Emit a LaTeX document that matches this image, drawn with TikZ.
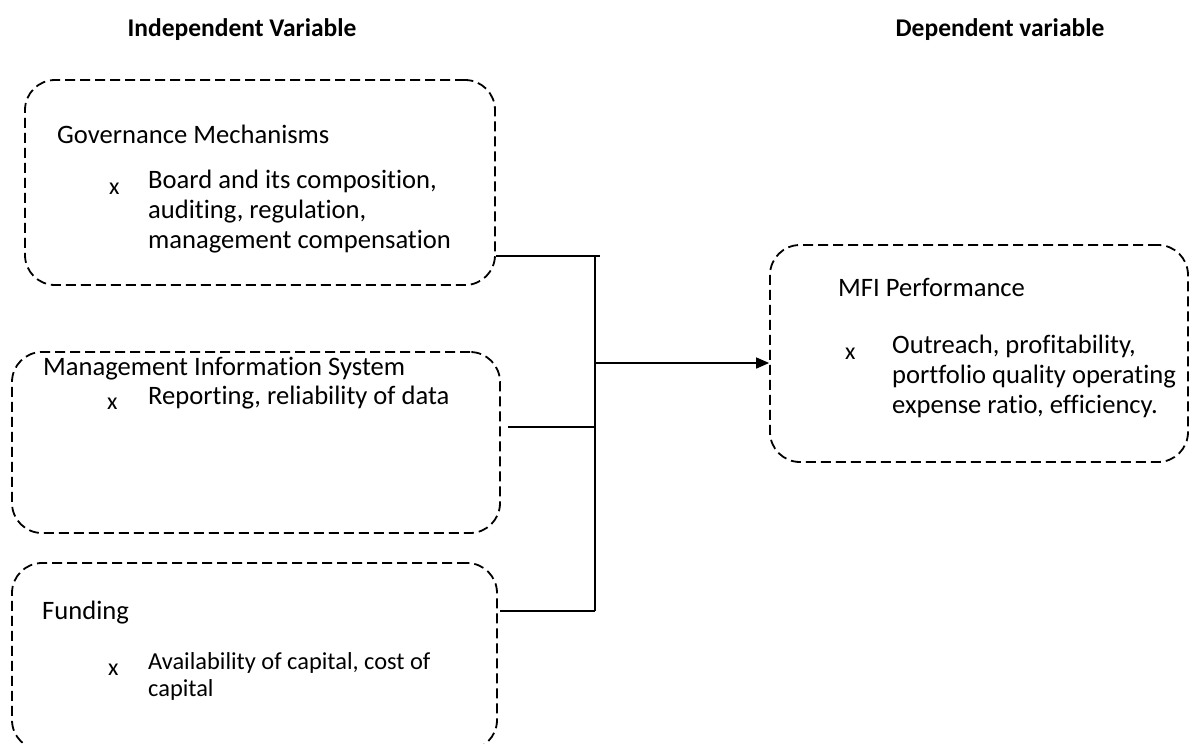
\documentclass[tikz,border=0pt]{standalone}
\usepackage{fontspec}
\setmainfont{Carlito}[Ligatures=NoCommon]
\usetikzlibrary{arrows.meta,calc}

\begin{document}
\begin{tikzpicture}[x=1pt,y=-1pt]
    \tikzstyle{edge}  = [line width=1.6pt,draw=black]
    \tikzstyle{dedge} = [edge,-{Triangle[length=13pt,width=11pt]}]
    \tikzstyle{vbox}=[
      draw=black,
      rectangle,
      rounded corners=30pt,
      line width=1.8pt,
      dash pattern=on 10pt off 5pt,
      inner sep=0pt,
    ]
    \tikzstyle{vhead}=[
      font=\fontsize{25.5}{30}\selectfont\bfseries,
      anchor=base,
      inner sep=0pt,
    ]
    \tikzstyle{vtitle}=[
      font=\fontsize{26.6}{30}\selectfont,
      anchor=base west,
      inner sep=0pt,
    ]
    \tikzstyle{vbullet}=[
      vtitle,
      font=\fontsize{24}{30}\selectfont,
    ]
    \tikzstyle{vitem}=[
      vtitle,
      align=flush left,
      text width=400pt,
    ]
    \tikzstyle{vsmall}=[
      vitem,
      font=\fontsize{24.4}{27}\selectfont,
    ]

    \useasboundingbox (0,0) rectangle (1191,744);

    {
      \node[vhead] (hind) at (242,36) {Independent Variable};
      \node[vhead] (hdep) at (1000,36) {Dependent variable};
    }

    {
      \node[vbox,minimum width=470pt,minimum height=205pt] (gov) at (260,182.5) {};
      \node[vbox,minimum width=488pt,minimum height=181pt] (mis) at (256,442.5) {};
      \node[vbox,minimum width=485pt,minimum height=187pt] (fund) at (254.5,656.5) {};
      \node[vbox,minimum width=418pt,minimum height=217pt] (mfi) at (979,353.5) {};
    }

    {
      \node[vtitle] (govt) at (57,143) {Governance Mechanisms};
      \node[vbullet] (govx) at (109,194) {x};
      \node[vitem] (govi) at (148,188) {Board and its composition,\\ auditing, regulation,\\ management compensation};

      \node[vtitle] (mist) at (43,375) {Management Information System};
      \node[vbullet] (misx) at (107,409) {x};
      \node[vitem] (misi) at (148,404) {Reporting, reliability of data};

      \node[vtitle] (fundt) at (42,619) {Funding};
      \node[vbullet] (fundx) at (108,675) {x};
      \node[vsmall] (fundi) at (148,669) {Availability of capital, cost of\\ capital};

      \node[vtitle] (mfit) at (838,296) {MFI Performance};
      \node[vbullet] (mfix) at (845,359) {x};
      \node[vitem,text width=290pt] (mfii) at (892,353) {Outreach, profitability,\\ portfolio quality operating\\ expense ratio, efficiency.};
    }

    {
      \coordinate (jtop) at (595,256);
      \coordinate (jend) at (600,256);
      \coordinate (jmid) at (595,363);
      \coordinate (jmis) at (595,427);
      \coordinate (jbot) at (595,611);
      \coordinate (misend) at (508,427);
      \coordinate (fundend) at (500,611);
    }

    {
      \draw[edge] (jtop -| gov.east)--(jend);
      \draw[edge] (jtop)--(jbot);
      \draw[edge] (misend)--(jmis);
      \draw[edge] (fundend)--(jbot);
      \draw[dedge] (jmid)--(jmid -| mfi.west);
    }
\end{tikzpicture}
\end{document}
